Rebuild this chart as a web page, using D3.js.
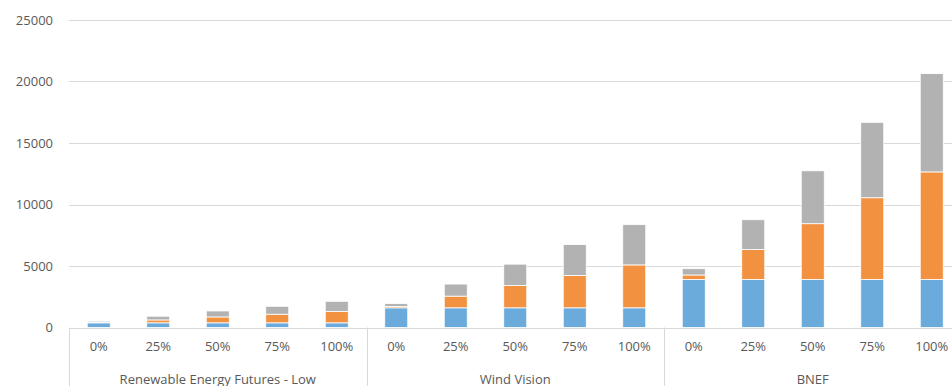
<!DOCTYPE html>
<html>
<head>
<meta charset="utf-8">
<script src="https://cdn.jsdelivr.net/npm/d3@7/dist/d3.min.js"></script>
<style>
  html, body { margin: 0; padding: 0; background: #fff; }
  svg { display: block; font-family: "Open Sans", "Liberation Sans", sans-serif; }
</style>
</head>
<body>
<svg id="chart" width="952" height="386"></svg>
<script>
// Scenario groups and penetration levels on the two-level category axis
const groups = ["Renewable Energy Futures - Low", "Wind Vision", "BNEF"];
const levels = ["0%", "25%", "50%", "75%", "100%"];

// Stacked segments, one value per bar (group-major order)
const seriesA = [380, 380, 380, 380, 380, 1600, 1600, 1600, 1600, 1600, 3900, 3900, 3900, 3900, 3900];
const seriesB = [30, 235, 480, 700, 920, 110, 950, 1820, 2630, 3490, 370, 2450, 4540, 6650, 8750];
const seriesC = [100, 300, 485, 645, 830, 230, 980, 1730, 2510, 3270, 510, 2410, 4300, 6130, 7990];
const seriesNames = ["A", "B", "C"];
const seriesColors = ["#6aabdc", "#f29140", "#b2b2b2"];

const yTicks = [0, 5000, 10000, 15000, 20000, 25000];

const rows = [];
groups.forEach((g, gi) => levels.forEach((l, li) => {
  const i = gi * levels.length + li;
  rows.push({ key: gi + "|" + l, group: g, level: l, A: seriesA[i], B: seriesB[i], C: seriesC[i] });
}));

const svg = d3.select("#chart");
const plotLeft = 69, plotRight = 961.5, plotTop = 20, plotBottom = 327.5;

const x = d3.scaleBand().domain(rows.map(d => d.key)).range([plotLeft, plotRight]);
const y = d3.scaleLinear().domain([0, 25000]).range([plotBottom, plotTop]);
const color = d3.scaleOrdinal().domain(seriesNames).range(seriesColors);

// Horizontal gridlines
svg.append("g").selectAll("line").data(yTicks.filter(t => t > 0)).join("line")
  .attr("x1", plotLeft).attr("x2", 952)
  .attr("y1", d => Math.round(y(d)) + 0.5).attr("y2", d => Math.round(y(d)) + 0.5)
  .attr("stroke", "#d9d9d9").attr("stroke-width", 1);

// Y axis tick labels
const yAxis = d3.axisLeft(y).tickValues(yTicks).tickSize(0).tickPadding(0).tickFormat(d3.format("d"));
const gy = svg.append("g").attr("transform", `translate(${plotLeft - 16},0)`).call(yAxis);
gy.select(".domain").remove();
gy.selectAll("text").attr("fill", "#595959").style("font-size", "13px")
  .style("font-family", "'Open Sans', sans-serif");

// Stacked bars
const stack = d3.stack().keys(seriesNames);
const layers = stack(rows);
const barW = 23;
svg.append("g").selectAll("g").data(layers).join("g")
  .attr("fill", d => color(d.key))
  .selectAll("rect").data(d => d).join("rect")
  .attr("x", d => x(d.data.key) + x.bandwidth() / 2 - barW / 2)
  .attr("width", barW)
  .attr("y", d => y(d[1]))
  .attr("height", d => Math.max(0, y(d[0]) - y(d[1])))
  .attr("stroke", "#ffffff").attr("stroke-width", 0.8);

// Category axis line
svg.append("line").attr("x1", plotLeft).attr("x2", 952)
  .attr("y1", Math.round(plotBottom) + 0.5).attr("y2", Math.round(plotBottom) + 0.5)
  .attr("stroke", "#d9d9d9");

// Level labels
const xAxis = d3.axisBottom(x).tickSize(0).tickPadding(0).tickFormat(k => k.split("|")[1]);
const gx = svg.append("g").attr("transform", `translate(0,${plotBottom + 14})`).call(xAxis);
gx.select(".domain").remove();
gx.selectAll("text").attr("fill", "#595959").style("font-size", "13px")
  .style("font-family", "'Open Sans', sans-serif");

// Group separators and group labels
const groupEdges = groups.map((g, gi) => x(gi + "|" + levels[0]));
groupEdges.push(plotRight);
svg.append("g").selectAll("line").data(groupEdges).join("line")
  .attr("x1", d => Math.round(d) + 0.5).attr("x2", d => Math.round(d) + 0.5)
  .attr("y1", plotBottom).attr("y2", 386)
  .attr("stroke", "#d9d9d9");

svg.append("g").selectAll("text").data(groups).join("text")
  .attr("x", (g, gi) => (groupEdges[gi] + groupEdges[gi + 1]) / 2)
  .attr("y", 384)
  .attr("text-anchor", "middle")
  .attr("fill", "#595959").style("font-size", "13px")
  .text(d => d);
</script>
</body>
</html>
